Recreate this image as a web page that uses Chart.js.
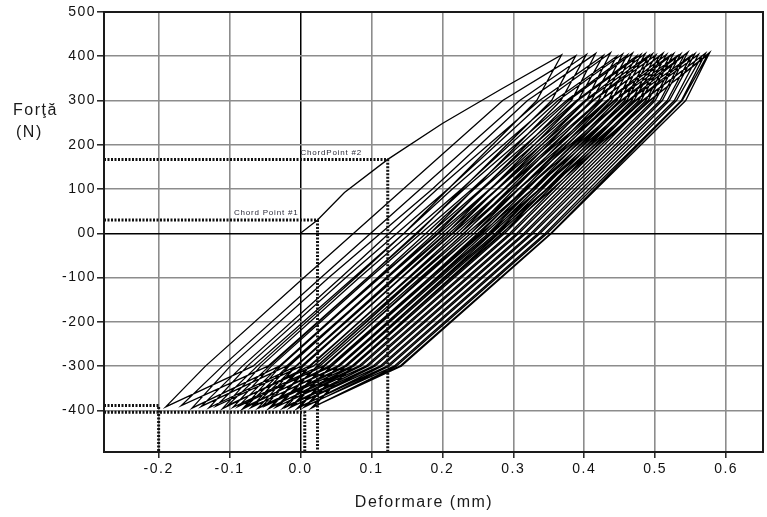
<!DOCTYPE html>
<html>
<head>
<meta charset="utf-8">
<script src="https://cdn.jsdelivr.net/npm/chart.js@4.4.1/dist/chart.umd.min.js"></script>
<style>
html, body { margin: 0; padding: 0; background: #fff; }
#wrap { width: 767px; height: 517px; position: relative; }
</style>
</head>
<body>
<div id="wrap"><canvas id="c" width="767" height="517"></canvas></div>
<script>
// Cyclic force–displacement record: virgin loading, then repeated unload/reload loops.
const virginX = [0, 0.024, 0.062, 0.123, 0.200, 0.282];
const virginN = [0, 30, 92, 167, 248, 325];

// Peaks (tension) and valleys (compression) of every loop
const peakX = [0.368, 0.388, 0.403, 0.416, 0.427, 0.437, 0.446, 0.454, 0.461, 0.468, 0.474, 0.480, 0.486, 0.491, 0.496, 0.501, 0.506, 0.511, 0.516, 0.521, 0.526, 0.531, 0.536, 0.541, 0.546, 0.551, 0.556, 0.561, 0.566, 0.571, 0.574, 0.577];
const peakN = [403, 401, 404, 406, 402, 408, 400, 405, 403, 407, 401, 404, 406, 402, 405, 403, 400, 407, 404, 402, 406, 401, 405, 403, 409, 402, 406, 404, 401, 407, 403, 409];
const valleyX = [-0.190, -0.168, -0.153, -0.140, -0.129, -0.119, -0.110, -0.102, -0.095, -0.088, -0.082, -0.076, -0.070, -0.065, -0.060, -0.055, -0.050, -0.045, -0.040, -0.035, -0.030, -0.025, -0.020, -0.015, -0.010, -0.005, 0.000, 0.005, 0.010, 0.015, 0.018, 0.021];
const valleyN = [-392, -389, -395, -391, -394, -390, -396, -388, -393, -391, -397, -390, -394, -389, -395, -392, -390, -396, -391, -393, -389, -395, -392, -394, -390, -396, -391, -393, -388, -395, -392, -390];

// Unloading branch: displacement where the force passes 300, 0 and -300 N
const unloadN = [300, 0, -300];
const unloadX300 = [0.333, 0.354, 0.367, 0.382, 0.391, 0.403, 0.410, 0.420, 0.425, 0.434, 0.438, 0.446, 0.450, 0.457, 0.460, 0.467, 0.470, 0.477, 0.480, 0.487, 0.490, 0.497, 0.500, 0.507, 0.510, 0.517, 0.520, 0.527, 0.530, 0.537, 0.538, 0.543];
const unloadX0 = [0.146, 0.165, 0.183, 0.193, 0.206, 0.214, 0.225, 0.231, 0.240, 0.245, 0.253, 0.257, 0.265, 0.268, 0.275, 0.278, 0.285, 0.288, 0.295, 0.298, 0.305, 0.308, 0.315, 0.318, 0.325, 0.328, 0.335, 0.338, 0.345, 0.348, 0.353, 0.354];
const unloadXm300 = [-0.067, -0.046, -0.030, -0.020, -0.006, 0.001, 0.012, 0.018, 0.027, 0.032, 0.040, 0.044, 0.052, 0.055, 0.062, 0.065, 0.072, 0.075, 0.082, 0.085, 0.092, 0.095, 0.102, 0.105, 0.112, 0.115, 0.122, 0.125, 0.132, 0.135, 0.140, 0.142];

// Reloading branch: displacement where the force passes -300, -100, 100 and 300 N
const reloadN = [-300, -100, 100, 300];
const reloadXm300 = [-0.134, -0.110, -0.099, -0.082, -0.075, -0.061, -0.056, -0.044, -0.041, -0.030, -0.028, -0.018, -0.016, -0.007, -0.006, 0.003, 0.004, 0.013, 0.014, 0.023, 0.024, 0.033, 0.034, 0.043, 0.044, 0.053, 0.054, 0.063, 0.064, 0.073, 0.074];
const reloadXm100 = [0.005, 0.029, 0.040, 0.057, 0.064, 0.078, 0.083, 0.095, 0.098, 0.109, 0.111, 0.121, 0.123, 0.132, 0.133, 0.142, 0.143, 0.152, 0.153, 0.162, 0.163, 0.172, 0.173, 0.182, 0.183, 0.192, 0.193, 0.202, 0.203, 0.212, 0.213];
const reloadX100 = [0.145, 0.169, 0.186, 0.193, 0.208, 0.214, 0.227, 0.231, 0.242, 0.245, 0.255, 0.257, 0.267, 0.268, 0.277, 0.278, 0.287, 0.288, 0.297, 0.298, 0.307, 0.308, 0.317, 0.318, 0.327, 0.328, 0.337, 0.338, 0.347, 0.348, 0.355];
const reloadX300 = [0.285, 0.309, 0.320, 0.337, 0.344, 0.358, 0.363, 0.375, 0.378, 0.389, 0.391, 0.401, 0.403, 0.412, 0.413, 0.422, 0.423, 0.432, 0.433, 0.442, 0.443, 0.452, 0.453, 0.462, 0.463, 0.472, 0.473, 0.482, 0.483, 0.492, 0.493];

// Marked points (dotted drop lines to both axes)
const chordX = [0.024, 0.123];
const chordN = [30, 167];
const chordLabels = ['Chord Point #1', 'ChordPoint #2'];
const floorX = [-0.2, 0.006];
const floorN = [-389, -404];

// Axis ticks
const xTicks = [-0.2, -0.1, 0.0, 0.1, 0.2, 0.3, 0.4, 0.5, 0.6];
const xTickLabels = ['-0.2', '-0.1', '0.0', '0.1', '0.2', '0.3', '0.4', '0.5', '0.6'];
const yTicks = [-400, -300, -200, -100, 0, 100, 200, 300, 400, 500];
const yTickLabels = ['-400', '-300', '-200', '-100', '00', '100', '200', '300', '400', '500'];

const X_MIN = -0.277, X_MAX = 0.652, Y_MIN = -494, Y_MAX = 500;

// Assemble the continuous record
const record = [];
virginX.forEach((x, i) => record.push({ x, y: virginN[i] }));
const unloadCols = [unloadX300, unloadX0, unloadXm300];
const reloadCols = [reloadXm300, reloadXm100, reloadX100, reloadX300];
peakX.forEach((px, i) => {
  record.push({ x: px, y: peakN[i] });
  unloadCols.forEach((col, k) => record.push({ x: col[i], y: unloadN[k] }));
  record.push({ x: valleyX[i], y: valleyN[i] });
  if (i < reloadXm300.length) {
    reloadCols.forEach((col, k) => record.push({ x: col[i], y: reloadN[k] }));
  }
});

const dropLine = (x, y) => [{ x: X_MIN, y }, { x, y }, { x, y: Y_MIN }];
const markerStyle = {
  showLine: true, borderColor: '#111', borderWidth: 3, borderDash: [2, 1.5],
  pointRadius: 0, fill: false, tension: 0, order: 0
};
const markerSets = [];
chordX.forEach((x, i) => markerSets.push({ ...markerStyle, label: chordLabels[i], data: dropLine(x, chordN[i]) }));
floorX.forEach((x, i) => markerSets.push({ ...markerStyle, label: 'floor' + i, data: dropLine(x, floorN[i]) }));

const FONT = '"Liberation Sans", Arial, sans-serif';

const decor = {
  id: 'decor',
  beforeDraw(chart) { chart.ctx.letterSpacing = '1.5px'; },
  afterDatasetsDraw(chart) {
    const { ctx, chartArea: a, scales } = chart;
    ctx.save();
    ctx.strokeStyle = '#1a1a1a';
    ctx.lineWidth = 2;
    ctx.strokeRect(a.left, a.top, a.right - a.left, a.bottom - a.top);
    ctx.fillStyle = '#2b2b3a';
    ctx.font = '8px ' + FONT;
    ctx.letterSpacing = '0.8px';
    ctx.textBaseline = 'alphabetic';
    const x0 = scales.x.getPixelForValue(0);
    ctx.textAlign = 'right';
    ctx.fillText(chordLabels[0], x0 - 2, scales.y.getPixelForValue(chordN[0]) - 5);
    ctx.textAlign = 'left';
    ctx.fillText(chordLabels[1], x0, scales.y.getPixelForValue(chordN[1]) - 4);
    ctx.restore();
  },
  afterDraw(chart) {
    const ctx = chart.ctx;
    ctx.save();
    ctx.fillStyle = '#1a1a1a';
    ctx.font = '16px ' + FONT;
    ctx.letterSpacing = '1.5px';
    ctx.textBaseline = 'alphabetic';
    ctx.textAlign = 'center';
    ctx.fillText('Deformare (mm)', 424, 507);
    ctx.textAlign = 'left';
    ctx.fillText('Forţă', 13, 115);
    ctx.fillText('(N)', 16, 137);
    ctx.restore();
  }
};

new Chart(document.getElementById('c'), {
  type: 'scatter',
  data: {
    datasets: [
      ...markerSets,
      {
        label: 'Forţă', data: record, showLine: true, borderColor: '#000', borderWidth: 1.3,
        pointRadius: 0, fill: false, tension: 0, order: 1
      }
    ]
  },
  options: {
    responsive: false,
    devicePixelRatio: 1,
    animation: false,
    layout: { padding: { top: 12, right: 4, left: 0, bottom: 0 } },
    plugins: { legend: { display: false }, tooltip: { enabled: false }, title: { display: false } },
    scales: {
      x: {
        type: 'linear', min: X_MIN, max: X_MAX,
        afterBuildTicks: s => { s.ticks = xTicks.map(v => ({ value: v })); },
        afterFit: s => { s.height = 65; },
        ticks: {
          autoSkip: false, maxRotation: 0, padding: 3, color: '#111',
          font: { family: FONT, size: 14 },
          callback: v => xTickLabels[xTicks.indexOf(v)]
        },
        grid: {
          color: c => (c.tick && c.tick.value === 0 ? '#000' : '#8c8c8c'),
          lineWidth: c => (c.tick && c.tick.value === 0 ? 1.5 : 1.6),
          tickColor: '#222', tickLength: 6, tickWidth: 1.5
        },
        border: { display: false }
      },
      y: {
        type: 'linear', min: Y_MIN, max: Y_MAX,
        afterBuildTicks: s => { s.ticks = yTicks.map(v => ({ value: v })); },
        afterFit: s => { s.width = 104; },
        ticks: {
          autoSkip: false, padding: 1, color: '#111',
          font: { family: FONT, size: 14 },
          callback: v => yTickLabels[yTicks.indexOf(v)]
        },
        grid: {
          color: c => (c.tick && c.tick.value === 0 ? '#000' : '#8c8c8c'),
          lineWidth: c => (c.tick && c.tick.value === 0 ? 1.5 : 1.6),
          tickColor: '#222', tickLength: 7, tickWidth: 1.5
        },
        border: { display: false }
      }
    }
  },
  plugins: [decor]
});
</script>
</body>
</html>
